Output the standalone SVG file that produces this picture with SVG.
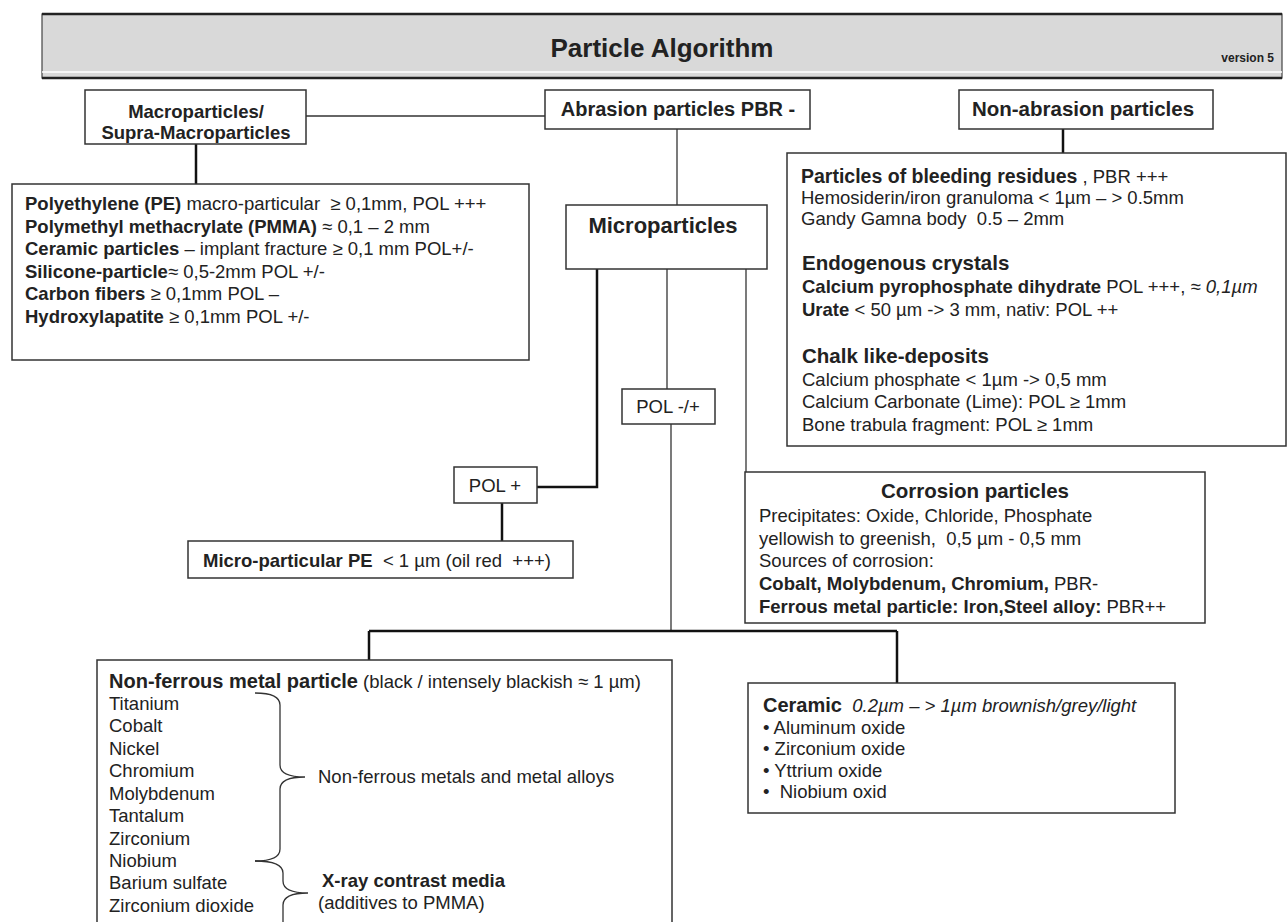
<svg xmlns="http://www.w3.org/2000/svg" width="1288" height="922" viewBox="0 0 1288 922">
<style>
text{font-family:"Liberation Sans",Arial,sans-serif;fill:#222;font-size:18.5px}
.b{font-weight:bold}
.h{font-weight:bold;font-size:20.5px}
.i{font-style:italic}
.box{fill:#fff;stroke:#333;stroke-width:1.5}
.ln{stroke:#333;stroke-width:1.3;fill:none}
.lt{stroke:#111;stroke-width:2.5;fill:none}
.m{text-anchor:middle}
</style>
<rect width="1288" height="922" fill="#fff"/>
<g id="title">
<rect x="42" y="14" width="1240" height="64" fill="#d9d9d9" stroke="#444" stroke-width="1.2"/>
<line x1="42" y1="14" x2="1282" y2="14" stroke="#222" stroke-width="2.5"/>
<line x1="42" y1="72" x2="1282" y2="72" stroke="#fff" stroke-width="1.5"/>
<line x1="42" y1="78" x2="1282" y2="78" stroke="#222" stroke-width="2.5"/>
<text x="662" y="57" class="b m" style="font-size:26px">Particle Algorithm</text>
<text x="1274" y="62" class="b" style="font-size:12px;text-anchor:end">version 5</text>
</g>
<g id="connectors">
<line class="ln" x1="306" y1="116" x2="545" y2="116"/>
<line class="lt" x1="196" y1="144" x2="196" y2="184"/>
<line class="ln" x1="677" y1="129" x2="677" y2="205"/>
<line class="lt" x1="1063" y1="129" x2="1063" y2="153"/>
<polyline class="lt" points="597,269 597,487 537,487"/>
<line class="ln" x1="667" y1="269" x2="667" y2="389"/>
<line class="ln" x1="746" y1="269" x2="746" y2="472"/>
<line class="lt" x1="502" y1="503" x2="502" y2="541"/>
<line class="ln" x1="671" y1="424" x2="671" y2="631"/>
<line class="lt" x1="369" y1="631" x2="897" y2="631"/>
<line class="lt" x1="369" y1="631" x2="369" y2="660"/>
<line class="lt" x1="897" y1="631" x2="897" y2="683"/>
</g>
<g id="macro">
<rect class="box" x="85" y="90" width="221" height="54"/>
<text x="196" y="118" class="b m">Macroparticles/</text>
<text x="196" y="139" class="b m">Supra-Macroparticles</text>
</g>
<g id="abrasion">
<rect class="box" x="545" y="90" width="265" height="39"/>
<text x="678" y="116" class="b m" style="font-size:20px">Abrasion particles PBR -</text>
</g>
<g id="nonabrasion">
<rect class="box" x="959" y="90" width="254" height="39"/>
<text x="1083" y="116" class="b m" style="font-size:20.5px">Non-abrasion particles</text>
</g>
<g id="macrolist">
<rect class="box" x="12" y="184" width="517" height="176"/>
<text x="25" y="210" xml:space="preserve"><tspan class="b">Polyethylene (PE)</tspan> macro-particular  ≥ 0,1mm, POL +++</text>
<text x="25" y="233"><tspan class="b">Polymethyl methacrylate (PMMA)</tspan> ≈ 0,1 – 2 mm</text>
<text x="25" y="255"><tspan class="b">Ceramic particles</tspan> – implant fracture ≥ 0,1 mm POL+/-</text>
<text x="25" y="278"><tspan class="b">Silicone-particle</tspan>≈ 0,5-2mm POL +/-</text>
<text x="25" y="300"><tspan class="b">Carbon fibers</tspan> ≥ 0,1mm POL –</text>
<text x="25" y="323"><tspan class="b">Hydroxylapatite</tspan> ≥ 0,1mm POL +/-</text>
</g>
<g id="nonabrasionlist">
<rect class="box" x="787" y="153" width="499" height="293"/>
<text x="801" y="183" xml:space="preserve"><tspan class="b" style="font-size:19.5px">Particles of bleeding residues</tspan> , PBR +++</text>
<text x="801" y="204">Hemosiderin/iron granuloma &lt; 1µm – &gt; 0.5mm</text>
<text x="801" y="225" xml:space="preserve">Gandy Gamna body  0.5 – 2mm</text>
<text x="802" y="270" class="h">Endogenous crystals</text>
<text x="802" y="293"><tspan class="b">Calcium pyrophosphate dihydrate</tspan> POL +++, ≈ <tspan class="i">0,1µm</tspan></text>
<text x="802" y="316"><tspan class="b">Urate</tspan> &lt; 50 µm -&gt; 3 mm, nativ: POL ++</text>
<text x="802" y="363" class="h">Chalk like-deposits</text>
<text x="802" y="386">Calcium phosphate &lt; 1µm -&gt; 0,5 mm</text>
<text x="802" y="408">Calcium Carbonate (Lime): POL ≥ 1mm</text>
<text x="802" y="431">Bone trabula fragment: POL ≥ 1mm</text>
</g>
<g id="micro">
<rect class="box" x="566" y="205" width="201" height="64"/>
<text x="663" y="233" class="b m" style="font-size:22px">Microparticles</text>
</g>
<g id="polmp">
<rect class="box" x="622" y="389" width="93" height="35"/>
<text x="668" y="413" class="m">POL -/+</text>
</g>
<g id="polp">
<rect class="box" x="454" y="467" width="83" height="36"/>
<text x="495" y="492" class="m">POL +</text>
</g>
<g id="micrope">
<rect class="box" x="188" y="541" width="385" height="37"/>
<text x="203" y="567" xml:space="preserve"><tspan class="b">Micro-particular PE</tspan>  &lt; 1 µm (oil red  +++)</text>
</g>
<g id="corrosion">
<rect class="box" x="745" y="472" width="460" height="151"/>
<text x="975" y="498" class="h m">Corrosion particles</text>
<text x="759" y="522">Precipitates: Oxide, Chloride, Phosphate</text>
<text x="759" y="545" xml:space="preserve">yellowish to greenish,  0,5 µm - 0,5 mm</text>
<text x="759" y="567">Sources of corrosion:</text>
<text x="759" y="590"><tspan class="b">Cobalt, Molybdenum, Chromium,</tspan> PBR-</text>
<text x="759" y="613"><tspan class="b">Ferrous metal particle: Iron,Steel alloy:</tspan> PBR++</text>
</g>
<g id="nonferrous">
<rect class="box" x="97" y="660" width="575" height="290"/>
<text x="109" y="688"><tspan class="b" style="font-size:20px">Non-ferrous metal particle</tspan> (black / intensely blackish ≈ 1 µm)</text>
<text x="109" y="710">Titanium</text>
<text x="109" y="732">Cobalt</text>
<text x="109" y="755">Nickel</text>
<text x="109" y="777">Chromium</text>
<text x="109" y="800">Molybdenum</text>
<text x="109" y="822">Tantalum</text>
<text x="109" y="845">Zirconium</text>
<text x="109" y="867">Niobium</text>
<text x="109" y="889">Barium sulfate</text>
<text x="109" y="912">Zirconium dioxide</text>
<path class="ln" d="M255,693 Q280,693 280,705 L280,765 Q280,777 305,777 Q280,777 280,789 L280,849 Q280,861 255,861"/>
<path class="ln" d="M255,861 Q283,861 283,873 L283,881 Q283,893 308,893 Q283,893 283,905 L283,935"/>
<text x="318" y="783">Non-ferrous metals and metal alloys</text>
<text x="322" y="887" class="b">X-ray contrast media</text>
<text x="318" y="909">(additives to PMMA)</text>
</g>
<g id="ceramic">
<rect class="box" x="748" y="683" width="427" height="130"/>
<text x="763" y="712" xml:space="preserve"><tspan class="b" style="font-size:20px">Ceramic</tspan><tspan class="i">  0.2µm – &gt; 1µm brownish/grey/light</tspan></text>
<text x="763" y="734">• Aluminum oxide</text>
<text x="763" y="755">• Zirconium oxide</text>
<text x="763" y="777">• Yttrium oxide</text>
<text x="763" y="798" xml:space="preserve">•  Niobium oxid</text>
</g>
</svg>
